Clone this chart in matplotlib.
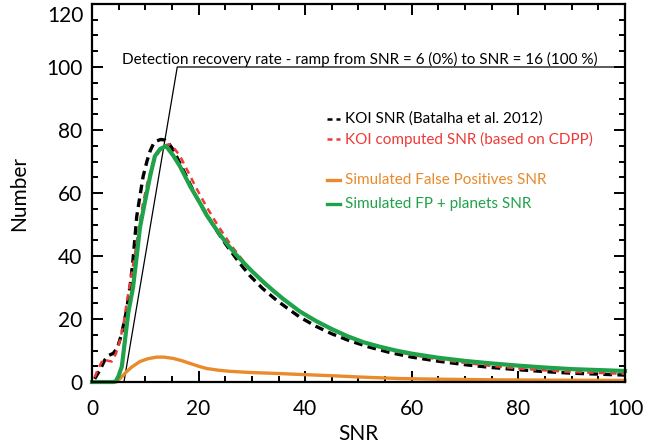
import matplotlib
matplotlib.use("Agg")
import matplotlib.pyplot as plt
from matplotlib.ticker import MultipleLocator
import matplotlib.transforms as mtransforms

plt.rcParams['font.family'] = ['Lato', 'DejaVu Sans']

# KOI SNR (Batalha et al. 2012)
koi_x = [0.5, 1.5, 2.4, 3.2, 4.0, 4.8, 5.6, 6.5, 7.2, 7.7, 8.4, 9.0, 9.6, 10.3,
         10.9, 11.5, 12.1, 12.9, 13.7, 14.5, 15.2, 16.5, 17.7, 19.5, 21.5, 23.5,
         25.2, 27.5, 29.6, 32.0, 34.6, 37.0, 39.0, 42.0, 45.0, 48.3, 52.0, 55.8,
         60.0, 65.0, 70.0, 75.0, 80.0, 85.0, 90.0, 95.0, 100.0]
koi_y = [1.0, 3.8, 7.0, 8.5, 9.1, 11.0, 15.5, 22.9, 31.0, 38.8, 52.6, 59.0, 65.3,
         70.0, 73.3, 75.5, 76.5, 77.0, 76.8, 75.5, 73.8, 69.5, 65.3, 59.0, 53.2,
         47.8, 43.5, 38.2, 33.8, 29.7, 26.0, 23.0, 20.6, 17.7, 15.3, 13.1, 11.1,
         9.4, 7.9, 6.6, 5.5, 4.6, 3.9, 3.3, 2.8, 2.5, 2.2]

# KOI computed SNR (based on CDPP)
cdpp_x = [0.5, 1.2, 2.1, 2.9, 3.7, 4.5, 5.2, 5.9, 6.5, 7.2, 8.0, 8.8, 9.6, 10.5,
          11.5, 12.5, 13.5, 14.5, 15.5, 16.5, 18.0, 19.5, 21.5, 23.5, 26.0,
          29.6, 32.7, 36.0, 39.0, 42.0, 45.0, 48.3, 52.0, 55.8, 60.0, 65.0,
          70.0, 75.0, 80.0, 85.0, 90.0, 95.0, 100.0]
cdpp_y = [1.5, 4.4, 7.2, 6.8, 6.5, 9.0, 13.0, 18.1, 25.0, 32.0, 40.0, 49.0, 57.0,
          64.0, 69.5, 73.0, 75.0, 75.5, 74.0, 71.8, 66.8, 61.8, 55.6, 50.0, 43.6,
          35.8, 30.6, 26.0, 22.4, 19.2, 16.6, 14.2, 12.0, 10.2, 8.6, 7.2, 6.1,
          5.1, 4.3, 3.7, 3.2, 2.9, 2.6]

# Simulated false positives
fp_x = [0, 4.6, 5.5, 6.5, 7.5, 9.0, 10.5, 12.1, 13.5, 15.2, 16.8, 18.4, 20.2,
        21.5, 23.5, 25.8, 30.0, 35.0, 39.0, 45.0, 50.0, 57.7, 65.0, 75.0, 85.0,
        100.0]
fp_y = [0, 0, 1.5, 3.3, 4.8, 6.5, 7.4, 7.9, 7.9, 7.5, 6.8, 5.9, 4.9, 4.3, 3.8,
        3.4, 3.0, 2.7, 2.4, 2.0, 1.6, 1.1, 0.9, 0.7, 0.6, 0.5]

# Simulated FP + planets
tot_x = [0, 2, 4, 4.5, 5.0, 5.6, 6.2, 6.8, 7.7, 8.4, 9.0, 9.9, 10.9, 11.8, 12.8,
         13.9, 15.2, 16.5, 18.4, 20.2, 21.5, 22.7, 24.0, 25.5, 27.0, 28.5,
         30.0, 32.0, 34.0, 36.0, 39.0, 42.0, 45.0, 48.0, 51.0, 54.0, 57.0,
         60.0, 65.0, 70.0, 75.0, 80.0, 85.0, 90.0, 95.0, 100.0]
tot_y = [0, 0, 0, 0.3, 2.0, 4.9, 13.4, 21.9, 30.0, 40.0, 49.0, 56.9, 65.3, 71.7,
         74.0, 74.9, 72.0, 68.5, 62.2, 57.0, 53.0, 50.0, 46.8, 43.5, 40.5, 37.8,
         35.2, 32.0, 29.0, 26.2, 22.4, 19.4, 16.8, 14.5, 12.6, 11.2, 10.0, 9.0,
         7.7, 6.7, 5.9, 5.2, 4.6, 4.1, 3.8, 3.5]

# detection recovery ramp
ramp_x = [6, 16, 100]
ramp_y = [0, 100, 100]

y_ticks = [0, 20, 40, 60, 80, 100, 120]
y_ticklabels = ['0', '20', '40', '60', '80', '100', '']

black = '#000000'
red = '#ee3a36'
orange = '#e98a2b'
green = '#1fa24a'

fig = plt.figure(figsize=(6.45, 4.44), dpi=100)
ax = fig.add_axes([0.1426, 0.1396, 0.8264, 0.8514])

ax.plot(ramp_x, ramp_y, color='black', lw=0.9)
ax.plot(koi_x, koi_y, color=black, lw=2.4, dashes=(2.6, 1.6), clip_on=False)
ax.plot(cdpp_x, cdpp_y, color=red, lw=1.8, dashes=(2.6, 2.0), clip_on=False)
ax.plot(fp_x, fp_y, color=orange, lw=2.4, clip_on=False)
ax.plot(tot_x, tot_y, color=green, lw=3.0, clip_on=False)

ax.text(5.6, 100.9, 'Detection recovery rate - ramp from SNR = 6 (0%) to SNR = 16 (100 %)',
        fontsize=11, color='black', va='baseline', ha='left')

# legend drawn by hand
leg_items = [('KOI SNR (Batalha et al. 2012)', black, True, 83.5),
             ('KOI computed SNR (based on CDPP)', red, True, 77.0),
             ('Simulated False Positives SNR', orange, False, 64.0),
             ('Simulated FP + planets SNR', green, False, 56.5)]
for label, col, dashed, yy in leg_items:
    if dashed:
        ax.plot([44.0, 46.6], [yy, yy], color=col, lw=1.8, dashes=(2.0, 1.6))
    else:
        ax.plot([44.0, 46.6], [yy, yy], color=col, lw=2.4)
    ax.text(47.5, yy, label, color=col, fontsize=11, va='center', ha='left')

ax.set_xlim(0, 100)
ax.set_ylim(0, 120)
ax.xaxis.set_major_locator(MultipleLocator(20))
ax.xaxis.set_minor_locator(MultipleLocator(5))
ax.set_yticks(y_ticks, y_ticklabels)
ax.yaxis.set_minor_locator(MultipleLocator(5))
ax.tick_params(which='both', direction='in', top=True, right=True, width=1.4,
               labelsize=15)
ax.tick_params(which='major', length=8)
ax.tick_params(axis='x', which='major', pad=12)
ax.tick_params(axis='y', which='major', pad=7)
ax.tick_params(which='minor', length=4)
for s in ax.spines.values():
    s.set_linewidth(1.6)

# top y label kept inside the figure, as in the original
trans = mtransforms.blended_transform_factory(ax.transAxes, ax.transData)
ax.text(-0.0165, 119.5, '120', transform=trans, ha='right', va='top', fontsize=15)

ax.set_xlabel('SNR', fontsize=15, labelpad=4)
ax.set_ylabel('Number', fontsize=15, labelpad=12)

fig.savefig('out.png', dpi=100)
